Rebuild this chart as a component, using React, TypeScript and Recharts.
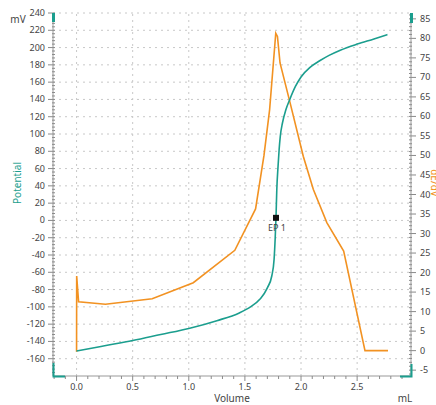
import { LineChart, Line, XAxis, YAxis, ReferenceLine, ReferenceDot } from "recharts";

// potential curve (mV, left axis)
const potentialX = [0, 0.25, 0.5, 0.75, 1.0, 1.25, 1.45, 1.55, 1.635, 1.7, 1.74, 1.76, 1.77, 1.777, 1.784, 1.795, 1.805, 1.815, 1.835, 1.865, 1.9, 1.95, 2.0, 2.08, 2.17, 2.25, 2.35, 2.5, 2.65, 2.77];
const potentialY = [-151, -145, -139, -132, -125, -116, -107, -100, -91, -78, -64, -45, -20, 3, 35, 62, 82, 97, 113, 128, 140, 155, 166, 177, 185, 191, 197, 204, 210, 215];

// first derivative curve (right axis)
const derivX = [0, 0.001, 0.018, 0.257, 0.674, 1.04, 1.41, 1.595, 1.67, 1.72, 1.775, 1.79, 1.813, 1.9, 2.02, 2.11, 2.23, 2.38, 2.57, 2.775];
const derivY = [-0.3, 19.1, 12.5, 11.9, 13.3, 17.4, 25.7, 36.3, 50, 61.7, 81.3, 80.5, 73.7, 63.8, 49.8, 41.3, 32.8, 25.5, 0, 0];

const epX = 1.777;
const epY = 3;
const epLabel = "EP 1";

const xMajorTicks = [0, 0.5, 1.0, 1.5, 2.0, 2.5];
const leftMajorTicks = [-160, -140, -120, -100, -80, -60, -40, -20, 0, 20, 40, 60, 80, 100, 120, 140, 160, 180, 200, 220, 240];
const rightMajorTicks = [-5, 0, 5, 10, 15, 20, 25, 30, 35, 40, 45, 50, 55, 60, 65, 70, 75, 80, 85];

const potentialData = potentialX.map((x, i) => ({ x, y: potentialY[i] }));
const derivData = derivX.map((x, i) => ({ x, y: derivY[i] }));

const steps = (from: number, to: number, step: number) => {
  const out: number[] = [];
  for (let v = from; v <= to + 1e-9; v += step) out.push(Math.round(v * 100) / 100);
  return out;
};
const xTicks = steps(-0.2, 2.9, 0.1);
const leftTicks = steps(-176, 240, 4);
const rightTicks = steps(-6, 86, 1);

const isMajor = (list: number[], v: number) => list.some((m) => Math.abs(m - v) < 1e-6);

const TEAL = "#1b9e8e";
const ORANGE = "#f29222";
const FONT = "'Noto Sans', sans-serif";
const TICK = "#8a8a8a";
const TXT = "#444";

const XTick = (props: any) => {
  const { x, y, payload } = props;
  const major = isMajor(xMajorTicks, payload.value);
  return (
    <g>
      <line x1={x} x2={x} y1={y} y2={y + (major ? 5 : 3)} stroke={TICK} />
      {major && (
        <text x={x} y={y + 14} textAnchor="middle" fontSize={9} fill={TXT} fontFamily={FONT}>
          {payload.value.toFixed(1)}
        </text>
      )}
    </g>
  );
};

const LeftTick = (props: any) => {
  const { x, y, payload } = props;
  const major = isMajor(leftMajorTicks, payload.value);
  return (
    <g>
      <line x1={major ? x - 5 : x - 1} x2={x + 2} y1={y} y2={y} stroke={TICK} />
      {major && (
        <text x={x - 8} y={y + 3} textAnchor="end" fontSize={9} fill={TXT} fontFamily={FONT}>
          {payload.value}
        </text>
      )}
    </g>
  );
};

const RightTick = (props: any) => {
  const { x, y, payload } = props;
  const major = isMajor(rightMajorTicks, payload.value);
  return (
    <g>
      <line x1={x - 2} x2={major ? x + 5 : x + 1} y1={y} y2={y} stroke={TICK} />
      {major && (
        <text x={x + 9} y={y + 3} textAnchor="start" fontSize={9} fill={TXT} fontFamily={FONT}>
          {payload.value}
        </text>
      )}
    </g>
  );
};

const EpMarker = (props: any) => {
  const { cx, cy } = props;
  return (
    <g>
      <rect x={cx - 3} y={cy - 3} width={6} height={6} fill="#111" />
      <text x={cx + 1} y={cy + 13} textAnchor="middle" fontSize={9} fill={TXT} fontFamily={FONT}>
        {epLabel}
      </text>
    </g>
  );
};

export default function App() {
  return (
    <div style={{ position: "fixed", left: 0, top: 0, width: 436, height: 405, background: "#fff" }}>
      <LineChart width={436} height={405} margin={{ top: 13, right: 0, bottom: 0, left: 0 }}>
        <XAxis
          dataKey="x"
          type="number"
          domain={[-0.21, 2.98]}
          ticks={xTicks}
          interval={0}
          tick={<XTick />}
          tickLine={false}
          tickSize={0}
          tickMargin={0}
          axisLine={{ stroke: "#999" }}
          height={29}
          allowDataOverflow
        />
        <YAxis
          yAxisId="left"
          type="number"
          domain={[-180, 240]}
          ticks={leftTicks}
          interval={0}
          tick={<LeftTick />}
          tickLine={false}
          tickSize={0}
          tickMargin={0}
          axisLine={{ stroke: "#999" }}
          width={53}
          allowDataOverflow
        />
        <YAxis
          yAxisId="right"
          orientation="right"
          type="number"
          domain={[-6.5, 86.5]}
          ticks={rightTicks}
          interval={0}
          tick={<RightTick />}
          tickLine={false}
          tickSize={0}
          tickMargin={0}
          axisLine={{ stroke: "#999" }}
          width={25}
          allowDataOverflow
        />
        {leftMajorTicks.map((v) => (
          <ReferenceLine key={"h" + v} yAxisId="left" y={v} stroke="#c8c8c8" strokeDasharray="2 4" />
        ))}
        {xMajorTicks.map((v) => (
          <ReferenceLine key={"v" + v} yAxisId="left" x={v} stroke="#c8c8c8" strokeDasharray="2 4" />
        ))}
        <Line
          yAxisId="right"
          data={derivData}
          dataKey="y"
          type="linear"
          stroke={ORANGE}
          strokeWidth={1.6}
          dot={false}
          isAnimationActive={false}
        />
        <Line
          yAxisId="left"
          data={potentialData}
          dataKey="y"
          type="monotone"
          stroke={TEAL}
          strokeWidth={1.6}
          dot={false}
          isAnimationActive={false}
        />
        <ReferenceDot yAxisId="left" x={epX} y={epY} shape={<EpMarker />} />
      </LineChart>
      <svg width={436} height={405} style={{ position: "absolute", left: 0, top: 0, pointerEvents: "none" }}>
        <text x={18} y={23} fontSize={10} fill={TXT} fontFamily={FONT} textAnchor="middle">mV</text>
        <text x={0} y={0} fontSize={10} fill={TEAL} fontFamily={FONT} textAnchor="middle" transform="translate(21,183) rotate(-90)">Potential</text>
        <text x={0} y={0} fontSize={10} fill={ORANGE} fontFamily={FONT} textAnchor="middle" transform="translate(431,183) rotate(90)">dE/dV</text>
        <text x={232} y={402} fontSize={10} fill={TXT} fontFamily={FONT} textAnchor="middle">Volume</text>
        <text x={405} y={402} fontSize={10} fill={TXT} fontFamily={FONT} textAnchor="middle">mL</text>
        <rect x={52} y={13} width={3} height={9} fill={TEAL} />
        <path d="M53.5 363 V376.5 H65" stroke={TEAL} strokeWidth={2} fill="none" />
        <rect x={410} y={13} width={3} height={10} fill={TEAL} />
        <path d="M411.5 364 V376.5 H400" stroke={TEAL} strokeWidth={2} fill="none" />
      </svg>
    </div>
  );
}
